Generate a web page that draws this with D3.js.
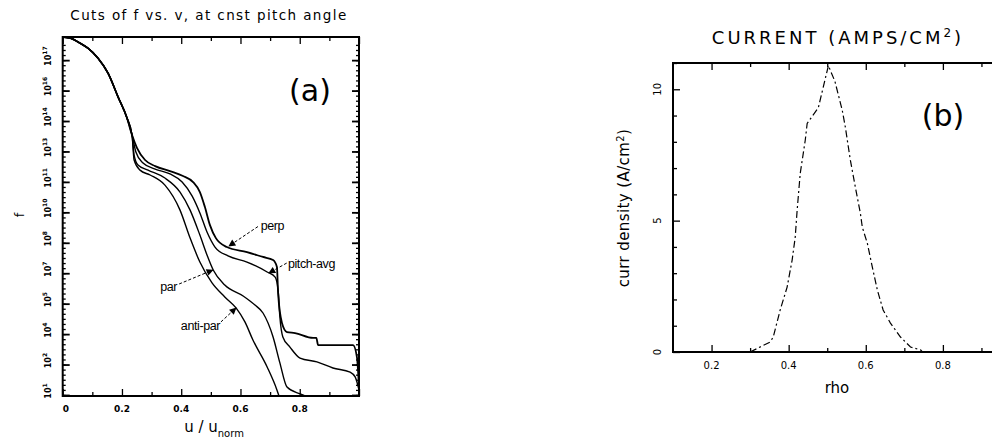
<!DOCTYPE html>
<html>
<head>
<meta charset="utf-8">
<script src="https://cdn.jsdelivr.net/npm/d3@7"></script>
<style>
  body { margin: 0; background: #fff; }
  svg { display: block; font-family: "DejaVu Sans", sans-serif; }
  text { fill: #000; }
</style>
</head>
<body>
<div id="chart"></div>
<script>
// ---- panel (a): cuts of f, values as log10(f) ----
var coreU = [0, 0.025, 0.058, 0.085, 0.119, 0.153, 0.187, 0.217, 0.234];
var coreE = [18.64, 18.59, 18.34, 18.09, 17.60, 16.86, 15.68, 14.65, 13.81];

var perpU = [0.251, 0.278, 0.312, 0.362, 0.406, 0.440, 0.463, 0.480, 0.497, 0.517, 0.554, 0.622, 0.676, 0.710, 0.723, 0.727, 0.740, 0.757, 0.784, 0.845, 0.856, 0.862, 0.980, 0.993, 1.0];
var perpE = [13.17, 12.58, 12.28, 12.03, 11.79, 11.49, 11.00, 10.26, 9.37, 8.73, 8.29, 8.04, 7.80, 7.65, 7.31, 6.02, 4.55, 4.10, 4.05, 3.81, 3.81, 3.46, 3.46, 2.87, 1.39];

var pitchU = [0.247, 0.271, 0.312, 0.362, 0.403, 0.437, 0.463, 0.487, 0.514, 0.558, 0.622, 0.690, 0.717, 0.727, 0.733, 0.743, 0.767, 0.801, 0.858, 0.912, 0.970, 0.987, 1.0];
var pitchE = [12.97, 12.43, 12.13, 11.89, 11.49, 10.80, 9.97, 9.03, 8.29, 7.85, 7.55, 7.06, 6.81, 6.17, 4.84, 3.86, 3.36, 2.82, 2.63, 2.33, 2.13, 1.89, 1.25];

var parU = [0.241, 0.254, 0.288, 0.345, 0.396, 0.430, 0.463, 0.487, 0.508, 0.547, 0.609, 0.649, 0.676, 0.710, 0.733, 0.757, 0.801, 0.818];
var parE = [12.82, 12.33, 12.08, 11.69, 11.00, 10.11, 8.88, 7.90, 7.16, 6.42, 5.88, 5.43, 5.04, 3.86, 2.58, 1.39, 1.05, 0.95];

var antiU = [0.241, 0.261, 0.295, 0.345, 0.396, 0.430, 0.463, 0.504, 0.547, 0.585, 0.615, 0.642, 0.690, 0.723, 0.730];
var antiE = [12.58, 12.08, 11.84, 11.34, 10.11, 8.73, 7.55, 6.52, 5.83, 5.29, 4.60, 3.71, 2.38, 1.25, 0.95];

var xTicksA = [0, 0.2, 0.4, 0.6, 0.8];
var yExpTicksA = [1, 2.5, 4, 5.5, 7, 8.5, 10, 11.5, 13, 14.5, 16, 17.5];

// label, text anchor [u, log f], arrow tail [u, log f], arrow head [u, log f]
var notes = [
    { label: "perp",      anchor: "start", text: [0.668, 9.33], tail: [0.659, 9.30], head: [0.561, 8.34] },
    { label: "pitch-avg", anchor: "start", text: [0.760, 7.45], tail: [0.756, 7.50], head: [0.696, 7.01] },
    { label: "par",       anchor: "end",   text: [0.386, 6.30], tail: [0.393, 6.47], head: [0.507, 7.16] },
    { label: "anti-par",  anchor: "end",   text: [0.531, 4.40], tail: [0.534, 4.60], head: [0.585, 5.29] }
];

// ---- panel (b): current density ----
var rhoVals = [0.300, 0.352, 0.360, 0.378, 0.396, 0.409, 0.417, 0.422, 0.430, 0.443, 0.448, 0.477, 0.503, 0.520, 0.539, 0.547, 0.560, 0.573, 0.586, 0.591, 0.604, 0.617, 0.630, 0.645, 0.664, 0.690, 0.716, 0.742, 0.747];
var curVals = [0.0, 0.38, 0.57, 1.6, 2.47, 3.5, 4.37, 5.4, 6.8, 8.06, 8.7, 9.3, 10.9, 10.3, 9.2, 8.56, 7.3, 6.27, 5.28, 4.75, 4.14, 3.23, 2.36, 1.6, 1.1, 0.57, 0.19, 0.08, 0.0];
var xTicksB = [0.2, 0.4, 0.6, 0.8];
var yTicksB = [0, 5, 10];

var width = 992, height = 444;

var svg = d3.select("#chart")
    .append("svg")
    .attr("width", width)
    .attr("height", height);

svg.append("rect").attr("width", width).attr("height", height).attr("fill", "#fff");

svg.append("defs").append("marker")
    .attr("id", "head")
    .attr("viewBox", "0 0 10 10")
    .attr("refX", 9).attr("refY", 5)
    .attr("markerWidth", 9).attr("markerHeight", 7)
    .attr("markerUnits", "userSpaceOnUse")
    .attr("orient", "auto")
    .append("path")
    .attr("d", "M0,0 L10,5 L0,10 z")
    .attr("fill", "#000");

// ================= panel (a) =================
var xA = d3.scaleLinear().domain([0, 1]).range([62.7, 359]);
var yA = d3.scaleLog().domain([Math.pow(10, 0.95), Math.pow(10, 18.64)]).range([396, 37]);
var pw = function (e) { return Math.pow(10, e); };

var gA = svg.append("g");

gA.append("clipPath").attr("id", "clipA")
    .append("rect")
    .attr("x", xA(0)).attr("y", yA.range()[1])
    .attr("width", xA(1) - xA(0)).attr("height", yA.range()[0] - yA.range()[1]);

// minor ticks every quarter decade / 0.1 in u
var yMinorA = d3.range(1, 74).map(function (k) { return pw(k * 0.25); })
    .filter(function (v) { return v > yA.domain()[0] && v < yA.domain()[1]; });
var xMinorA = d3.range(1, 10, 2).map(function (k) { return k / 10; });

function axisStyle(g, w) {
    g.select(".domain").remove();
    g.selectAll("line").attr("stroke", "#000").attr("stroke-width", w || 1.3);
}

gA.append("g").attr("transform", "translate(0," + yA.range()[0] + ")")
    .call(d3.axisBottom(xA).tickValues(xTicksA.concat([1])).tickSize(-7).tickFormat(""))
    .call(axisStyle);
gA.append("g").attr("transform", "translate(0," + yA.range()[0] + ")")
    .call(d3.axisBottom(xA).tickValues(xMinorA).tickSize(-4).tickFormat(""))
    .call(axisStyle);
gA.append("g").attr("transform", "translate(0," + yA.range()[1] + ")")
    .call(d3.axisTop(xA).tickValues(xTicksA.concat([1])).tickSize(-7).tickFormat(""))
    .call(axisStyle);
gA.append("g").attr("transform", "translate(0," + yA.range()[1] + ")")
    .call(d3.axisTop(xA).tickValues(xMinorA).tickSize(-4).tickFormat(""))
    .call(axisStyle);

gA.append("g").attr("transform", "translate(" + xA(0) + ",0)")
    .call(d3.axisLeft(yA).tickValues(yExpTicksA.map(pw)).tickSize(-7).tickFormat(""))
    .call(axisStyle, 1.8);
gA.append("g").attr("transform", "translate(" + xA(0) + ",0)")
    .call(d3.axisLeft(yA).tickValues(yMinorA).tickSize(-3).tickFormat(""))
    .call(axisStyle);
gA.append("g").attr("transform", "translate(" + xA(1) + ",0)")
    .call(d3.axisRight(yA).tickValues(yExpTicksA.map(pw)).tickSize(-7).tickFormat(""))
    .call(axisStyle, 1.8);
gA.append("g").attr("transform", "translate(" + xA(1) + ",0)")
    .call(d3.axisRight(yA).tickValues(yMinorA).tickSize(-3).tickFormat(""))
    .call(axisStyle);

gA.append("rect")
    .attr("x", xA(0)).attr("y", yA.range()[1])
    .attr("width", xA(1) - xA(0)).attr("height", yA.range()[0] - yA.range()[1])
    .attr("fill", "none").attr("stroke", "#000").attr("stroke-width", 2);

// x tick labels
gA.selectAll(".xlab")
    .data(xTicksA)
    .enter()
    .append("text")
    .attr("x", function (d) { return xA(d); })
    .attr("y", 412)
    .attr("text-anchor", function (d) { return d === 0 ? "start" : "middle"; })
    .attr("font-size", 9)
    .attr("font-weight", "bold")
    .text(function (d) { return d === 0 ? "0" : d3.format(".1f")(d); });

// y tick labels, rotated, 10^n
var yl = gA.selectAll(".ylab")
    .data(yExpTicksA)
    .enter()
    .append("text")
    .attr("transform", function (d) { return "translate(51," + (yA(pw(d)) - 4) + ") rotate(-90)"; })
    .attr("text-anchor", "middle")
    .attr("font-size", 8)
    .attr("font-weight", "bold");
yl.append("tspan").text("10");
yl.append("tspan").attr("dy", -4).attr("font-size", 6).text(function (d) { return Math.floor(d); });

// curves
var lineA = d3.line()
    .x(function (d) { return xA(d[0]); })
    .y(function (d) { return yA(pw(d[1])); })
    .curve(d3.curveMonotoneX);

function series(us, es) {
    return d3.zip(coreU.concat(us), coreE.concat(es));
}

var curves = [
    { name: "perp", pts: series(perpU, perpE), w: 1.8 },
    { name: "pitch-avg", pts: series(pitchU, pitchE), w: 1.4 },
    { name: "par", pts: series(parU, parE), w: 1.4 },
    { name: "anti-par", pts: series(antiU, antiE), w: 1.4 }
];

gA.append("g").attr("clip-path", "url(#clipA)")
    .selectAll("path")
    .data(curves)
    .enter()
    .append("path")
    .attr("d", function (d) { return lineA(d.pts); })
    .attr("fill", "none")
    .attr("stroke", "#000")
    .attr("stroke-width", function (d) { return d.w; });

// annotations
gA.selectAll(".arrow")
    .data(notes)
    .enter()
    .append("line")
    .attr("x1", function (d) { return xA(d.tail[0]); })
    .attr("y1", function (d) { return yA(pw(d.tail[1])); })
    .attr("x2", function (d) { return xA(d.head[0]); })
    .attr("y2", function (d) { return yA(pw(d.head[1])); })
    .attr("stroke", "#000")
    .attr("stroke-width", 1)
    .attr("stroke-dasharray", "3,2")
    .attr("marker-end", "url(#head)");

gA.selectAll(".note")
    .data(notes)
    .enter()
    .append("text")
    .attr("x", function (d) { return xA(d.text[0]); })
    .attr("y", function (d) { return yA(pw(d.text[1])) + 4; })
    .attr("text-anchor", function (d) { return d.anchor; })
    .attr("font-size", 12.5)
    .attr("font-family", "Liberation Sans, sans-serif")
    .attr("letter-spacing", -0.4)
    .text(function (d) { return d.label; });

gA.append("text")
    .attr("x", 310).attr("y", 101)
    .attr("text-anchor", "middle")
    .attr("font-size", 30)
    .text("(a)");

gA.append("text")
    .attr("x", 209).attr("y", 20)
    .attr("text-anchor", "middle")
    .attr("font-size", 13.5)
    .attr("letter-spacing", 1.4)
    .text("Cuts of f vs. v, at cnst pitch angle");

var xlabA = gA.append("text")
    .attr("x", 214).attr("y", 432)
    .attr("text-anchor", "middle")
    .attr("font-size", 15);
xlabA.append("tspan").text("u / u");
xlabA.append("tspan").attr("dy", 5).attr("font-size", 10).text("norm");

gA.append("text")
    .attr("transform", "translate(24,215) rotate(-90)")
    .attr("text-anchor", "middle")
    .attr("font-size", 13)
    .text("f");

// ================= panel (b) =================
var xB = d3.scaleLinear().domain([0.1, 1.0]).range([673, 1020]);
var yB = d3.scaleLinear().domain([0, 11]).range([352, 63]);

var gB = svg.append("g");

var xMinorB = [0.3, 0.5, 0.7, 0.9];
var yMinorB = d3.range(0, 12).filter(function (v) { return yTicksB.indexOf(v) < 0; });

gB.append("g").attr("transform", "translate(0," + yB(0) + ")")
    .call(d3.axisBottom(xB).tickValues(xTicksB.concat([1])).tickSize(-7).tickFormat(""))
    .call(axisStyle);
gB.append("g").attr("transform", "translate(0," + yB(0) + ")")
    .call(d3.axisBottom(xB).tickValues(xMinorB).tickSize(-4).tickFormat(""))
    .call(axisStyle);
gB.append("g").attr("transform", "translate(0," + yB(11) + ")")
    .call(d3.axisTop(xB).tickValues(xTicksB.concat([1])).tickSize(-7).tickFormat(""))
    .call(axisStyle);
gB.append("g").attr("transform", "translate(0," + yB(11) + ")")
    .call(d3.axisTop(xB).tickValues(xMinorB).tickSize(-4).tickFormat(""))
    .call(axisStyle);
gB.append("g").attr("transform", "translate(" + xB(0.1) + ",0)")
    .call(d3.axisLeft(yB).tickValues(yTicksB).tickSize(-7).tickFormat(""))
    .call(axisStyle);
gB.append("g").attr("transform", "translate(" + xB(0.1) + ",0)")
    .call(d3.axisLeft(yB).tickValues(yMinorB).tickSize(-4).tickFormat(""))
    .call(axisStyle);

gB.append("rect")
    .attr("x", xB(0.1)).attr("y", yB(11))
    .attr("width", xB(1.0) - xB(0.1)).attr("height", yB(0) - yB(11))
    .attr("fill", "none").attr("stroke", "#000").attr("stroke-width", 2);

gB.selectAll(".xlab")
    .data(xTicksB)
    .enter()
    .append("text")
    .attr("x", function (d) { return xB(d); })
    .attr("y", 369)
    .attr("text-anchor", "middle")
    .attr("font-size", 10)
    .text(function (d) { return d3.format(".1f")(d); });

gB.selectAll(".ylab")
    .data(yTicksB)
    .enter()
    .append("text")
    .attr("transform", function (d) { return "translate(661," + yB(d) + ") rotate(-90)"; })
    .attr("text-anchor", "middle")
    .attr("font-size", 10)
    .text(function (d) { return d; });

var lineB = d3.line()
    .x(function (d) { return xB(d[0]); })
    .y(function (d) { return yB(d[1]); });

gB.append("path")
    .datum(d3.zip(rhoVals, curVals))
    .attr("d", lineB)
    .attr("fill", "none")
    .attr("stroke", "#000")
    .attr("stroke-width", 1.2)
    .attr("stroke-dasharray", "7,3,2,3");

var titleB = gB.append("text")
    .attr("x", 838).attr("y", 44)
    .attr("text-anchor", "middle")
    .attr("font-size", 18)
    .attr("letter-spacing", 3);
titleB.append("tspan").text("CURRENT (AMPS/CM");
titleB.append("tspan").attr("dy", -7).attr("font-size", 12).text("2");
titleB.append("tspan").attr("dy", 7).text(")");

var ylabB = gB.append("text")
    .attr("transform", "translate(629,208) rotate(-90)")
    .attr("text-anchor", "middle")
    .attr("font-size", 15)
    .attr("letter-spacing", 0.4);
ylabB.append("tspan").text("curr density (A/cm");
ylabB.append("tspan").attr("dy", -5).attr("font-size", 10).text("2");
ylabB.append("tspan").attr("dy", 5).text(")");

gB.append("text")
    .attr("x", 837).attr("y", 393)
    .attr("text-anchor", "middle")
    .attr("font-size", 15)
    .text("rho");

gB.append("text")
    .attr("x", 943).attr("y", 126)
    .attr("text-anchor", "middle")
    .attr("font-size", 30)
    .text("(b)");
</script>
</body>
</html>
